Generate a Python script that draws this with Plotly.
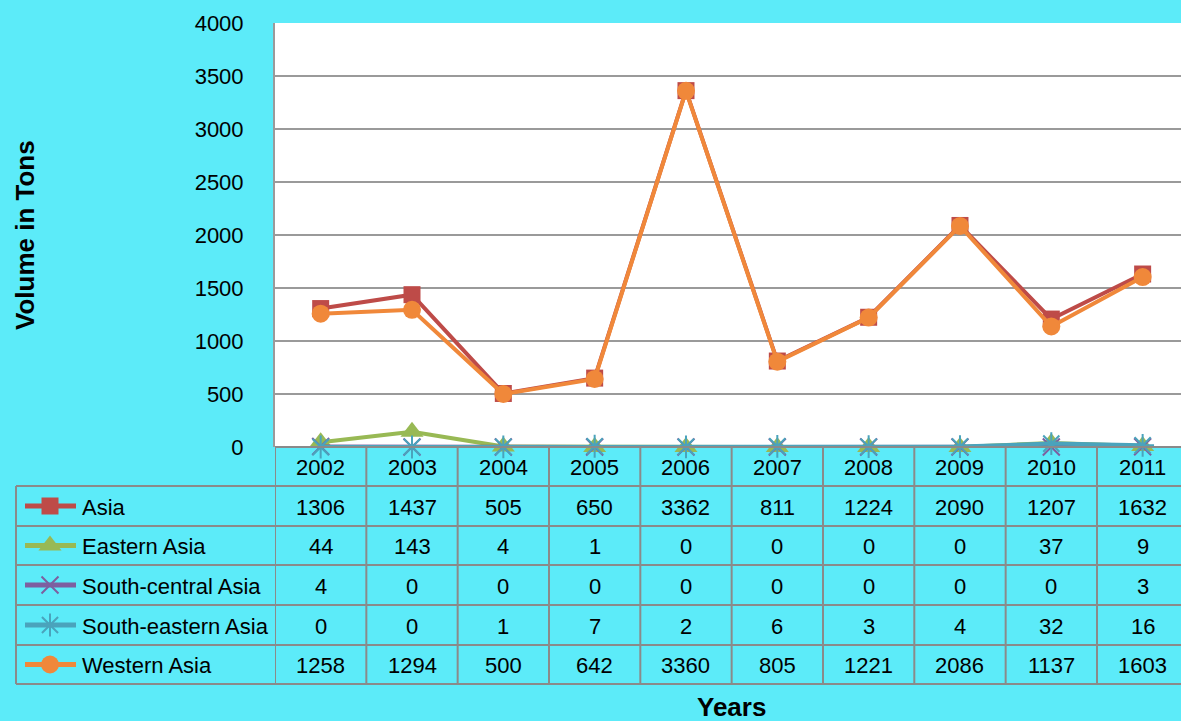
import plotly.graph_objects as go

years = ["2002", "2003", "2004", "2005", "2006", "2007", "2008", "2009", "2010", "2011"]
asia = [1306, 1437, 505, 650, 3362, 811, 1224, 2090, 1207, 1632]
eastern_asia = [44, 143, 4, 1, 0, 0, 0, 0, 37, 9]
south_central_asia = [4, 0, 0, 0, 0, 0, 0, 0, 0, 3]
south_eastern_asia = [0, 0, 1, 7, 2, 6, 3, 4, 32, 16]
western_asia = [1258, 1294, 500, 642, 3360, 805, 1221, 2086, 1137, 1603]

series_names = ["Asia", "Eastern Asia", "South-central Asia", "South-eastern Asia", "Western Asia"]
series_values = [asia, eastern_asia, south_central_asia, south_eastern_asia, western_asia]
colors = ["#BE4B48", "#98B954", "#7D5FA0", "#4AA3BC", "#F0883A"]
symbols = ["square", "triangle-up", "x-thin-open", "asterisk-open", "circle"]
msizes = [17, 20, 17, 19, 18]

W, H = 1181, 721
BG = "#5CEBF9"
GRID = "#9A9A9A"
FONT = "Liberation Sans, Arial, sans-serif"
BFONT = "Liberation Sans, Arial, sans-serif"

plot_left, plot_top, plot_bottom = 275, 23, 447
row_edges = [447, 486, 526, 565, 605, 645, 684]
table_left = 16


def px(x):
    return x / W


def py(y):
    return 1 - y / H


def make_marker(s, ms, c):
    m = dict(symbol=s, size=ms, color=c, opacity=1)
    if s.endswith("open"):
        m["line"] = dict(color=c, width=2)
    else:
        m["line"] = dict(width=0)
    return m


fig = go.Figure()

shapes = [dict(type="rect", xref="paper", yref="paper", layer="below",
               x0=px(plot_left), x1=1, y0=py(plot_bottom), y1=py(plot_top),
               fillcolor="#FFFFFF", line=dict(width=0))]

for name, vals, c, s, ms in zip(series_names, series_values, colors, symbols, msizes):
    fig.add_trace(go.Scatter(
        x=years, y=vals, name=name, mode="lines+markers",
        line=dict(color=c, width=4), marker=make_marker(s, ms, c),
        xaxis="x", yaxis="y", showlegend=False, cliponaxis=False))

# legend keys inside the table (pixel-space overlay axes)
for k, (name, c, s, ms) in enumerate(zip(series_names, colors, symbols, msizes)):
    yc = (row_edges[k + 1] + row_edges[k + 2]) / 2
    fig.add_trace(go.Scatter(
        x=[25, 76], y=[yc, yc], mode="lines",
        line=dict(color=c, width=5), xaxis="x2", yaxis="y2",
        showlegend=False, hoverinfo="skip"))
    fig.add_trace(go.Scatter(
        x=[50], y=[yc], mode="markers", marker=make_marker(s, ms, c),
        xaxis="x2", yaxis="y2", showlegend=False, hoverinfo="skip"))

line_style = dict(color="#8A8A8A", width=2)
for i, y in enumerate(row_edges):
    x0 = plot_left if i == 0 else table_left
    shapes.append(dict(type="line", xref="paper", yref="paper",
                       x0=px(x0), x1=1, y0=py(y), y1=py(y), line=line_style))
shapes.append(dict(type="line", xref="paper", yref="paper",
                   x0=px(table_left), x1=px(table_left), y0=py(row_edges[1]), y1=py(row_edges[-1]),
                   line=line_style))
for i in range(len(years) + 1):
    shapes.append(dict(type="line", xref="x", yref="paper",
                       x0=i - 0.5, x1=i - 0.5, y0=py(row_edges[0]), y1=py(row_edges[-1]),
                       line=line_style))

annotations = []
tf = dict(family=FONT, size=22, color="#000000")
for i, yr in enumerate(years):
    annotations.append(dict(x=i, y=py((row_edges[0] + row_edges[1]) / 2 + 1), xref="x", yref="paper",
                            text=yr, showarrow=False, font=tf, xanchor="center", yanchor="middle"))
for k, (name, vals) in enumerate(zip(series_names, series_values)):
    yc = py((row_edges[k + 1] + row_edges[k + 2]) / 2 + 1)
    annotations.append(dict(x=px(80), y=yc, xref="paper", yref="paper", text=name,
                            showarrow=False, font=tf, xanchor="left", yanchor="middle"))
    for i, v in enumerate(vals):
        annotations.append(dict(x=i, y=yc, xref="x", yref="paper", text=str(v),
                                showarrow=False, font=tf, xanchor="center", yanchor="middle"))

annotations.append(dict(x=px(731), y=py(707), xref="paper", yref="paper", text="<b>Years</b>",
                        showarrow=False, font=dict(family=BFONT, size=26, color="#000"),
                        xanchor="center", yanchor="middle"))
annotations.append(dict(x=px(25), y=py(235), xref="paper", yref="paper", text="<b>Volume in Tons</b>",
                        showarrow=False, textangle=-90, font=dict(family=BFONT, size=26, color="#000"),
                        xanchor="center", yanchor="middle"))

fig.update_layout(
    width=W, height=H,
    margin=dict(l=0, r=0, t=0, b=0, pad=0),
    paper_bgcolor=BG, plot_bgcolor="rgba(0,0,0,0)",
    font=dict(family=FONT, size=22, color="#000"),
    xaxis=dict(type="category", domain=[px(plot_left), 1], range=[-0.5, 9.42],
               showticklabels=False, showgrid=False, zeroline=False, showline=False,
               fixedrange=True, anchor="y", automargin=False),
    yaxis=dict(domain=[py(plot_bottom), py(plot_top)], range=[0, 4000], dtick=500,
               showgrid=True, gridcolor=GRID, gridwidth=2, zeroline=False,
               showline=True, linecolor=GRID, linewidth=2,
               tickfont=dict(family=FONT, size=22, color="#000"),
               ticks="", ticklabelstandoff=25, anchor="x", automargin=False),
    xaxis2=dict(domain=[0, 1], range=[0, W], visible=False, anchor="y2", automargin=False),
    yaxis2=dict(domain=[0, 1], range=[H, 0], visible=False, anchor="x2", automargin=False),
    shapes=shapes, annotations=annotations,
    showlegend=False,
)

fig.write_html("out.html", config={"displayModeBar": False},
               post_script="document.body.style.margin='0';document.body.style.padding='0';")
